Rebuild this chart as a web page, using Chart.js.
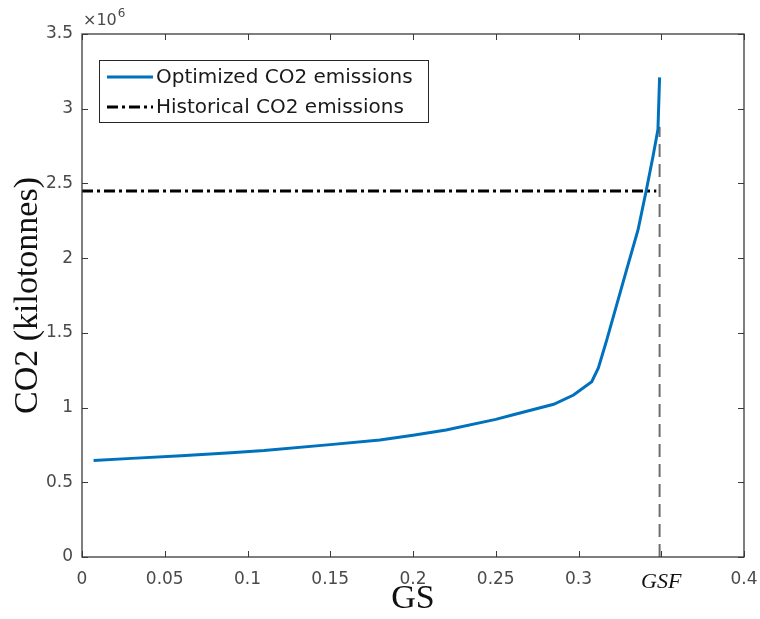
<!DOCTYPE html>
<html>
<head>
<meta charset="utf-8">
<script src="https://cdn.jsdelivr.net/npm/chart.js@4"></script>
<style>
  html, body { margin: 0; padding: 0; background: #ffffff; }
  #wrap { position: relative; width: 760px; height: 619px; }
</style>
</head>
<body>
<div id="wrap"><canvas id="c" width="760" height="619"></canvas></div>
<script>
// ---- data (CO2 in units of 10^6 kilotonnes) ----
const gsValues = [0.007, 0.03, 0.06, 0.09, 0.11, 0.15, 0.18, 0.20, 0.22, 0.25, 0.26, 0.285, 0.297, 0.308, 0.312, 0.317, 0.329, 0.336, 0.341, 0.345, 0.348, 0.349];
const optimizedCO2 = [0.645, 0.660, 0.677, 0.697, 0.712, 0.752, 0.783, 0.815, 0.850, 0.921, 0.950, 1.022, 1.084, 1.173, 1.265, 1.45, 1.92, 2.19, 2.456, 2.68, 2.86, 3.21];
const historicalCO2 = 2.45;
const historicalRange = [0, 0.347];
const gsfValue = 0.349;
const gsfLineTop = 2.88;
const xTickValues = [0, 0.05, 0.1, 0.15, 0.2, 0.25, 0.3, 0.35, 0.4];
const xTickLabels = ['0', '0.05', '0.1', '0.15', '0.2', '0.25', '0.3', 'GSF', '0.4'];
const yTickLabels = ['0', '0.5', '1', '1.5', '2', '2.5', '3', '3.5'];
const seriesNames = ['Optimized CO2 emissions', 'Historical CO2 emissions'];

const AXIS_COLOR = '#3a3a3a';
const TICK_COLOR = '#4a4a4a';

const boxPlugin = {
  id: 'matlabBox',
  afterDraw(chart) {
    const ctx = chart.ctx;
    const a = chart.chartArea;
    const xs = chart.scales.x, ys = chart.scales.y;
    ctx.save();
    ctx.strokeStyle = AXIS_COLOR;
    ctx.lineWidth = 1.3;
    ctx.strokeRect(a.left, a.top, a.right - a.left, a.bottom - a.top);
    const tl = 6;
    ctx.beginPath();
    xs.ticks.forEach(t => {
      const px = Math.round(xs.getPixelForValue(t.value)) + 0.5;
      ctx.moveTo(px, a.bottom); ctx.lineTo(px, a.bottom - tl);
      ctx.moveTo(px, a.top); ctx.lineTo(px, a.top + tl);
    });
    ys.ticks.forEach(t => {
      const py = Math.round(ys.getPixelForValue(t.value)) + 0.5;
      ctx.moveTo(a.left, py); ctx.lineTo(a.left + tl, py);
      ctx.moveTo(a.right, py); ctx.lineTo(a.right - tl, py);
    });
    ctx.lineWidth = 1;
    ctx.stroke();

    // exponent label
    ctx.fillStyle = TICK_COLOR;
    ctx.textBaseline = 'alphabetic';
    ctx.textAlign = 'left';
    ctx.font = '16px "DejaVu Sans"';
    ctx.fillText('\u00d710', a.left + 1, a.top - 9);
    const w = ctx.measureText('\u00d710').width;
    ctx.font = '12px "DejaVu Sans"';
    ctx.fillText('6', a.left + 1 + w + 1, a.top - 17);

    // legend
    const lx = 99, ly = 60, lw = 329, lh = 62;
    ctx.fillStyle = '#ffffff';
    ctx.fillRect(lx, ly, lw, lh);
    ctx.strokeStyle = '#262626';
    ctx.lineWidth = 1;
    ctx.strokeRect(lx + 0.5, ly + 0.5, lw, lh);
    const rows = [0, 1];
    rows.forEach((di, i) => {
      const ds = chart.data.datasets[di];
      const yy = ly + 17 + i * 30;
      ctx.beginPath();
      ctx.setLineDash(ds.borderDash || []);
      ctx.strokeStyle = ds.borderColor;
      ctx.lineWidth = ds.borderWidth;
      ctx.moveTo(107, yy); ctx.lineTo(153, yy);
      ctx.stroke();
      ctx.setLineDash([]);
      ctx.fillStyle = '#1a1a1a';
      ctx.font = '20px "DejaVu Sans"';
      ctx.textBaseline = 'middle';
      ctx.fillText(ds.label, 156, yy + 1);
    });
    ctx.restore();
  }
};

new Chart(document.getElementById('c'), {
  type: 'line',
  data: {
    datasets: [
      {
        label: seriesNames[0],
        data: gsValues.map((g, i) => ({ x: g, y: optimizedCO2[i] })),
        borderColor: '#0072BD',
        borderWidth: 3,
        pointRadius: 0,
        tension: 0,
        order: 1
      },
      {
        label: seriesNames[1],
        data: historicalRange.map(g => ({ x: g, y: historicalCO2 })),
        borderColor: '#000000',
        borderWidth: 3,
        borderDash: [11, 4, 3, 4],
        pointRadius: 0,
        order: 2
      },
      {
        label: 'GSF',
        data: [{ x: gsfValue, y: 0 }, { x: gsfValue, y: gsfLineTop }],
        borderColor: '#6e6e6e',
        borderWidth: 2,
        borderDash: [13, 7],
        pointRadius: 0,
        order: 3
      }
    ]
  },
  options: {
    responsive: false,
    animation: false,
    devicePixelRatio: 1,
    layout: { padding: { left: 0, right: 16, top: 34, bottom: 0 } },
    plugins: { legend: { display: false }, tooltip: { enabled: false } },
    scales: {
      x: {
        type: 'linear',
        min: 0, max: 0.4,
        afterBuildTicks(scale) { scale.ticks = xTickValues.map(v => ({ value: v })); },
        afterFit(scale) { scale.height = 62; scale.paddingLeft = 0; scale.paddingRight = 0; },
        grid: { display: false, drawTicks: false },
        border: { display: false },
        ticks: {
          padding: 12,
          maxRotation: 0,
          autoSkip: false,
          color: ctx => (ctx.index === 7 ? '#111111' : TICK_COLOR),
          font: ctx => (ctx.index === 7
            ? { family: '"Liberation Serif"', size: 22, style: 'italic' }
            : { family: '"DejaVu Sans"', size: 17 }),
          callback: (v, i) => xTickLabels[i]
        },
        title: {
          display: true,
          text: 'GS',
          color: '#111111',
          font: { family: '"Liberation Serif"', size: 34 },
          padding: { top: 0, bottom: 0 }
        }
      },
      y: {
        type: 'linear',
        min: 0, max: 3.5,
        afterBuildTicks(scale) { scale.ticks = yTickLabels.map(s => ({ value: parseFloat(s) })); },
        afterFit(scale) { scale.width = 82; scale.paddingTop = 0; scale.paddingBottom = 0; },
        grid: { display: false, drawTicks: false },
        border: { display: false },
        ticks: {
          padding: 9,
          color: TICK_COLOR,
          font: { family: '"DejaVu Sans"', size: 17 },
          callback: (v, i) => yTickLabels[i]
        },
        title: {
          display: true,
          text: 'CO2 (kilotonnes)',
          color: '#111111',
          font: { family: '"Liberation Serif"', size: 34 },
          padding: { top: 8, bottom: 0 }
        }
      }
    }
  },
  plugins: [boxPlugin]
});
</script>
</body>
</html>
